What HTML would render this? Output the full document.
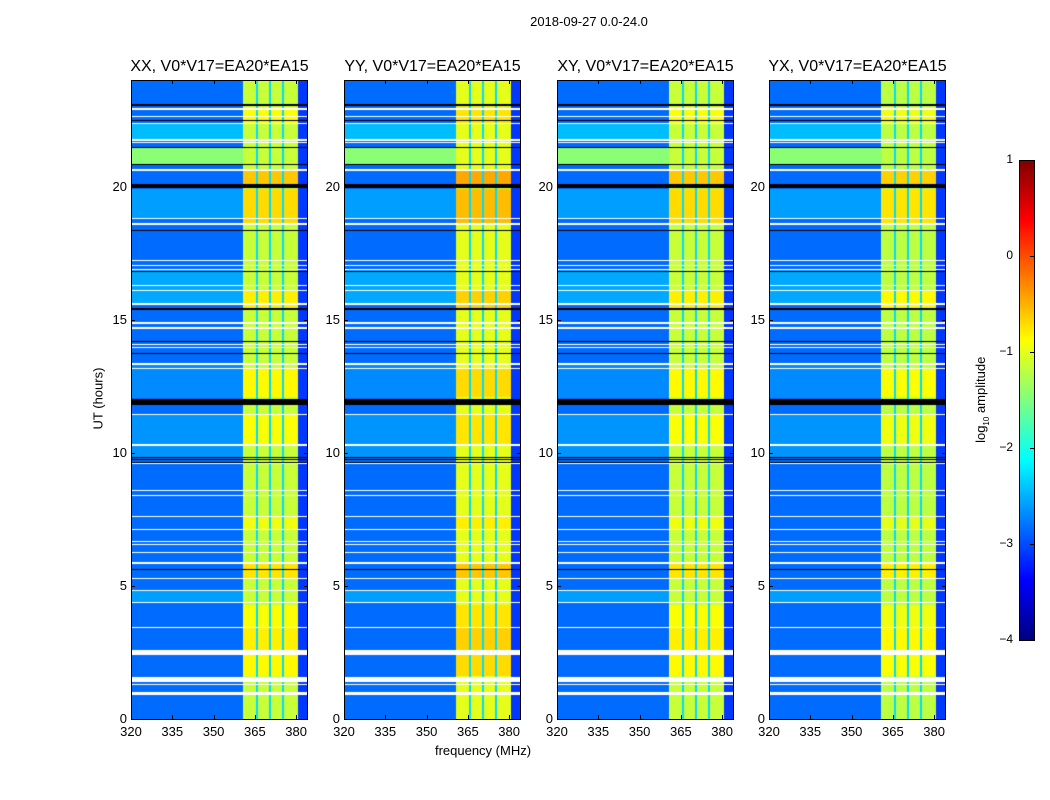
<!DOCTYPE html>
<html><head><meta charset="utf-8">
<style>
html,body{margin:0;padding:0;background:#fff;}
#fig{position:relative;width:1050px;height:800px;font-family:"Liberation Sans",sans-serif;color:#000;overflow:hidden;}
.t{position:absolute;white-space:nowrap;}
canvas{position:absolute;}
.frame{position:absolute;border:1px solid #000;box-sizing:border-box;}
</style></head>
<body>
<div id="fig">
<div class="t" style="left:489px;top:14px;width:200px;text-align:center;font-size:13px;">2018-09-27 0.0-24.0</div>
<div class="t" style="left:383px;top:743px;width:200px;text-align:center;font-size:13px;">frequency (MHz)</div>
<div class="t" style="left:48px;top:391px;width:100px;text-align:center;font-size:13px;transform:rotate(-90deg);">UT (hours)</div>
<div class="t" style="left:922px;top:391px;width:120px;text-align:center;font-size:13px;transform:rotate(-90deg);">log<sub style="font-size:8px">10</sub> amplitude</div>
</div>
<script>
// ---- data ----
const panelTitles = ["XX, V0*V17=EA20*EA15","YY, V0*V17=EA20*EA15","XY, V0*V17=EA20*EA15","YX, V0*V17=EA20*EA15"];
const bandBase = [-1.15, -1.0, -1.15, -1.2];         // log10 amp inside the bright band per pol
const background = -2.85;                            // typical log10 amp outside band
const bandStart = 360.7, bandEnd = 380.7;            // MHz
const dipFreqs = [365.8, 370.5, 375.2];              // MHz channels with lower amplitude
const xTicks = [320, 335, 350, 365, 380];
const yTicks = [0, 5, 10, 15, 20];
const cbTicks = [1, 0, -1, -2, -3, -4];
// time ranges (hours) with brighter background [start,end,offset]
const bgBoost = [[20.84,21.47,1.4],[21.74,22.37,0.4],[18.8,19.9,0.25],[15.6,16.9,0.3],[12.05,13.3,0.15],[9.84,11.4,0.2],[4.36,4.84,0.25]];
// time ranges with extra band brightness [start,end,offset]
const bandBoost = [[19.94,20.6,0.55],[18.6,19.9,0.45],[15.4,16.1,0.35],[12.1,13.2,0.3],[10.3,11.4,0.25],[5.3,5.9,0.4],[3.45,4.3,0.25],[2.6,3.4,0.35],[1.6,2.4,0.3],[7.1,7.6,0.2],[22.4,23.0,0.25]];
// flagged (white) time ranges
const flags = [[22.88,22.93],[22.6,22.65],[22.35,22.4],[21.72,21.77],[21.63,21.67],[20.6,20.65],[18.78,18.83],[18.57,18.62],
 [17.19,17.23],[17.0,17.05],[16.88,16.92],[16.25,16.3],[16.06,16.11],[15.56,15.61],[14.85,14.9],[14.66,14.71],[14.06,14.1],[13.92,13.96],
 [13.29,13.38],[13.16,13.2],[11.4,11.44],[10.27,10.31],[9.56,9.6],[8.55,8.59],[8.39,8.43],[7.6,7.64],[7.08,7.12],[6.63,6.67],[6.55,6.59],
 [6.25,6.29],[5.84,5.88],[5.24,5.28],[4.82,4.86],[4.34,4.38],[3.43,3.47],[2.4,2.59],[1.39,1.58],[1.26,1.3],[0.9,1.01]];
// black (zero) time ranges
const zeros = [[23.04,23.08],[22.47,22.51],[21.45,21.49],[20.82,20.86],[19.94,20.09],[18.34,18.38],[16.77,16.81],[15.38,15.42],[14.15,14.19],
 [13.7,13.75],[11.79,12.02],[9.61,9.66],[9.72,9.76],[9.8,9.84],[5.58,5.62]];

// ---- layout ----
const fig = document.getElementById('fig');
const panelX = [131, 344, 557, 769];
const PW = 177, PY = 80, PH = 639;
const fMin = 320, fMax = 384.3, tMin = 0, tMax = 24;
const xs = (f,x0)=> x0 + (f-fMin)/(fMax-fMin)*PW;
const ys = h => PY + PH - (h-tMin)/(tMax-tMin)*PH;
function jet(v){ let t=(v+4)/5; t=Math.max(0,Math.min(1,t));
  const c=x=>Math.max(0,Math.min(1,x));
  return [c(1.5-Math.abs(4*t-3))*255, c(1.5-Math.abs(4*t-2))*255, c(1.5-Math.abs(4*t-1))*255]; }
function inR(arr,h){ for(const r of arr){ if(h>=r[0]&&h<=r[1]) return r; } return null; }

panelX.forEach((x0,p)=>{
  const cv=document.createElement('canvas');
  
  
  cv.width=PW; cv.height=PH; cv.style.left=x0+'px'; cv.style.top=PY+'px';
  fig.appendChild(cv);
  const ctx=cv.getContext('2d'); const img=ctx.createImageData(PW,PH);
  const ch=[];
  for(let i=0;i<PW;i++){ const f=fMin+(i+0.5)/PW*(fMax-fMin);
    let kind=0; if(f>=bandStart&&f<=bandEnd){kind=1; for(const d of dipFreqs) if(Math.abs(f-d)<0.4) kind=2;}
    if(f>bandEnd) kind=3; ch.push(kind); }
  for(let j=0;j<PH;j++){
    const h=tMax-(j+0.5)/PH*(tMax-tMin);
    const fl=inR(flags,h), z=inR(zeros,h), bb=inR(bgBoost,h), bd=inR(bandBoost,h);
    for(let i=0;i<PW;i++){
      let col;
      if(fl) col=[255,255,255]; else if(z) col=[0,0,0]; else {
        const k=ch[i]; let v;
        if(k===1) v=bandBase[p]+(bd?bd[2]:0);
        else if(k===2) v=-2.3;
        else if(k===3) v=-3.1;
        else v=background+(bb?bb[2]:0);
        col=jet(v);
      }
      const o=(j*PW+i)*4; img.data[o]=col[0]; img.data[o+1]=col[1]; img.data[o+2]=col[2]; img.data[o+3]=255;
    }
  }
  ctx.putImageData(img,0,0);
  const fr=document.createElement('div'); fr.className='frame';
   
  fr.style.cssText=`left:${x0}px;top:${PY}px;width:${PW}px;height:${PH+1}px;`;
  fig.appendChild(fr);
  const tt=document.createElement('div'); tt.className='t';
   
  tt.style.cssText=`left:${x0-40}px;top:58px;width:${PW+80}px;text-align:center;font-size:16px;`;
  tt.textContent=panelTitles[p]; fig.appendChild(tt);
  xTicks.forEach(v=>{
    const x=xs(v,x0);
    const l=document.createElement('div'); l.className='t';
     
    l.style.cssText=`left:${x-20}px;top:724px;width:40px;text-align:center;font-size:13px;`;
    l.textContent=v; fig.appendChild(l);
    [[PY+PH-4],[PY]].forEach(t=>{ const k=document.createElement('div');
       
      k.style.cssText=`position:absolute;left:${x}px;top:${t[0]}px;width:1px;height:4px;background:#000;`; fig.appendChild(k);});
  });
  yTicks.forEach(v=>{
    const y=ys(v);
    const l=document.createElement('div'); l.className='t';
     
    l.style.cssText=`left:${x0-34}px;top:${y-8}px;width:30px;text-align:right;font-size:13px;`;
    l.textContent=v; fig.appendChild(l);
    [x0, x0+PW-4].forEach(xx=>{ const k=document.createElement('div');
       
      k.style.cssText=`position:absolute;left:${xx}px;top:${y}px;width:4px;height:1px;background:#000;`; fig.appendChild(k);});
  });
});

// colorbar
const CBX=1019, CBY=160, CBW=15, CBH=480;
const cb=document.createElement('canvas');
 
cb.width=CBW; cb.height=CBH; cb.style.left=CBX+'px'; cb.style.top=CBY+'px'; fig.appendChild(cb);
const cctx=cb.getContext('2d');
for(let j=0;j<CBH;j++){ const v=1-(j+0.5)/CBH*5; const c=jet(v);
  cctx.fillStyle=`rgb(${c[0]|0},${c[1]|0},${c[2]|0})`; cctx.fillRect(0,j,CBW,1); }
const cbf=document.createElement('div'); cbf.className='frame';
 
cbf.style.cssText=`left:${CBX}px;top:${CBY}px;width:${CBW+1}px;height:${CBH+1}px;`; fig.appendChild(cbf);
cbTicks.forEach(v=>{
  const y=CBY+(1-v)/5*CBH;
  const l=document.createElement('div'); l.className='t';
   
  l.style.cssText=`left:${CBX-40}px;top:${y-8}px;width:34px;text-align:right;font-size:12px;`;
  l.textContent=v<0?'\u2212'+(-v):v; fig.appendChild(l);
  const k=document.createElement('div');
   
  k.style.cssText=`position:absolute;left:${CBX+CBW-4}px;top:${y}px;width:4px;height:1px;background:#000;`; fig.appendChild(k);
});
</script>
</body></html>
